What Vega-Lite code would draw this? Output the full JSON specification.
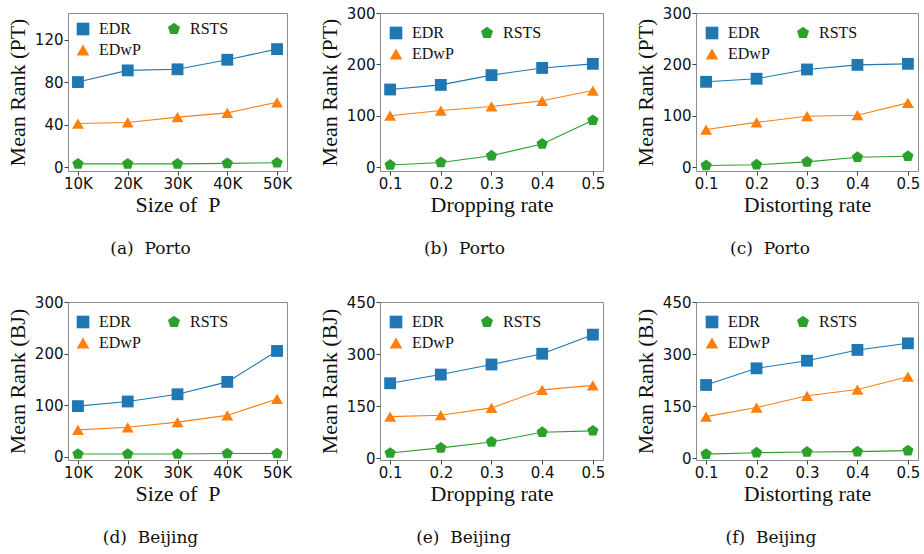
{
  "$schema": "https://vega.github.io/schema/vega-lite/v6.json",
  "background": "white",
  "padding": {"left": 5, "top": 5, "right": 5, "bottom": 5},
  "config": {
    "view": {"stroke": "#8c8c8c", "strokeWidth": 1},
    "axis": {
      "grid": false, "domain": false,
      "tickColor": "#444", "tickSize": 4, "tickWidth": 1,
      "labelFont": "DejaVu Sans", "labelFontSize": 15, "labelColor": "#111", "labelPadding": 1,
      "titleFont": "Liberation Serif", "titleFontSize": 22, "titleFontWeight": "normal", "titleColor": "#111"
    },
    "axisX": {"titlePadding": 3, "labelFlush": false},
    "axisY": {"titlePadding": 5},
    "legend": {
      "columns": 2, "columnPadding": 25, "rowPadding": 5,
      "labelFont": "Liberation Serif", "labelFontSize": 16, "labelColor": "#111", "labelOffset": 8,
      "symbolSize": 160, "symbolStrokeWidth": 0, "padding": 0
    },
    "title": {"font": "DejaVu Serif", "fontSize": 17, "fontWeight": "normal", "color": "#111", "orient": "bottom", "offset": 26}
  },
  "datasets": {
    "a": [
      {"x": 10, "m": "EDR", "v": 80}, {"x": 20, "m": "EDR", "v": 91}, {"x": 30, "m": "EDR", "v": 92}, {"x": 40, "m": "EDR", "v": 101}, {"x": 50, "m": "EDR", "v": 111},
      {"x": 10, "m": "EDwP", "v": 41}, {"x": 20, "m": "EDwP", "v": 42}, {"x": 30, "m": "EDwP", "v": 47}, {"x": 40, "m": "EDwP", "v": 51}, {"x": 50, "m": "EDwP", "v": 61},
      {"x": 10, "m": "RSTS", "v": 3}, {"x": 20, "m": "RSTS", "v": 3}, {"x": 30, "m": "RSTS", "v": 3}, {"x": 40, "m": "RSTS", "v": 3.5}, {"x": 50, "m": "RSTS", "v": 4}
    ],
    "b": [
      {"x": 0.1, "m": "EDR", "v": 151}, {"x": 0.2, "m": "EDR", "v": 160}, {"x": 0.3, "m": "EDR", "v": 179}, {"x": 0.4, "m": "EDR", "v": 193}, {"x": 0.5, "m": "EDR", "v": 201},
      {"x": 0.1, "m": "EDwP", "v": 100}, {"x": 0.2, "m": "EDwP", "v": 110}, {"x": 0.3, "m": "EDwP", "v": 118}, {"x": 0.4, "m": "EDwP", "v": 129}, {"x": 0.5, "m": "EDwP", "v": 149},
      {"x": 0.1, "m": "RSTS", "v": 4}, {"x": 0.2, "m": "RSTS", "v": 9}, {"x": 0.3, "m": "RSTS", "v": 22}, {"x": 0.4, "m": "RSTS", "v": 45}, {"x": 0.5, "m": "RSTS", "v": 91}
    ],
    "c": [
      {"x": 0.1, "m": "EDR", "v": 166}, {"x": 0.2, "m": "EDR", "v": 172}, {"x": 0.3, "m": "EDR", "v": 190}, {"x": 0.4, "m": "EDR", "v": 199}, {"x": 0.5, "m": "EDR", "v": 201},
      {"x": 0.1, "m": "EDwP", "v": 73}, {"x": 0.2, "m": "EDwP", "v": 87}, {"x": 0.3, "m": "EDwP", "v": 99}, {"x": 0.4, "m": "EDwP", "v": 101}, {"x": 0.5, "m": "EDwP", "v": 125},
      {"x": 0.1, "m": "RSTS", "v": 3}, {"x": 0.2, "m": "RSTS", "v": 4.5}, {"x": 0.3, "m": "RSTS", "v": 10}, {"x": 0.4, "m": "RSTS", "v": 19}, {"x": 0.5, "m": "RSTS", "v": 21}
    ],
    "d": [
      {"x": 10, "m": "EDR", "v": 98}, {"x": 20, "m": "EDR", "v": 107}, {"x": 30, "m": "EDR", "v": 121}, {"x": 40, "m": "EDR", "v": 145}, {"x": 50, "m": "EDR", "v": 205},
      {"x": 10, "m": "EDwP", "v": 52}, {"x": 20, "m": "EDwP", "v": 57}, {"x": 30, "m": "EDwP", "v": 67}, {"x": 40, "m": "EDwP", "v": 80}, {"x": 50, "m": "EDwP", "v": 112},
      {"x": 10, "m": "RSTS", "v": 5}, {"x": 20, "m": "RSTS", "v": 5}, {"x": 30, "m": "RSTS", "v": 5}, {"x": 40, "m": "RSTS", "v": 6}, {"x": 50, "m": "RSTS", "v": 6}
    ],
    "e": [
      {"x": 0.1, "m": "EDR", "v": 216}, {"x": 0.2, "m": "EDR", "v": 241}, {"x": 0.3, "m": "EDR", "v": 270}, {"x": 0.4, "m": "EDR", "v": 301}, {"x": 0.5, "m": "EDR", "v": 356},
      {"x": 0.1, "m": "EDwP", "v": 120}, {"x": 0.2, "m": "EDwP", "v": 124}, {"x": 0.3, "m": "EDwP", "v": 145}, {"x": 0.4, "m": "EDwP", "v": 197}, {"x": 0.5, "m": "EDwP", "v": 210},
      {"x": 0.1, "m": "RSTS", "v": 15}, {"x": 0.2, "m": "RSTS", "v": 30}, {"x": 0.3, "m": "RSTS", "v": 47}, {"x": 0.4, "m": "RSTS", "v": 75}, {"x": 0.5, "m": "RSTS", "v": 79}
    ],
    "f": [
      {"x": 0.1, "m": "EDR", "v": 211}, {"x": 0.2, "m": "EDR", "v": 259}, {"x": 0.3, "m": "EDR", "v": 281}, {"x": 0.4, "m": "EDR", "v": 312}, {"x": 0.5, "m": "EDR", "v": 331},
      {"x": 0.1, "m": "EDwP", "v": 120}, {"x": 0.2, "m": "EDwP", "v": 146}, {"x": 0.3, "m": "EDwP", "v": 180}, {"x": 0.4, "m": "EDwP", "v": 198}, {"x": 0.5, "m": "EDwP", "v": 235},
      {"x": 0.1, "m": "RSTS", "v": 12}, {"x": 0.2, "m": "RSTS", "v": 16}, {"x": 0.3, "m": "RSTS", "v": 18}, {"x": 0.4, "m": "RSTS", "v": 19}, {"x": 0.5, "m": "RSTS", "v": 22}
    ]
  },
  "columns": 3,
  "spacing": {"row": 131, "column": 93},
  "bounds": "flush",
  "align": "each",
  "resolve": {"scale": {"color": "independent", "shape": "independent", "x": "independent", "y": "independent"}, "legend": {"color": "independent", "shape": "independent"}},
  "concat": [
    {
      "width": 219, "height": 158,
      "title": {"text": "(a)\u00a0 Porto", "dx": -27},
      "data": {"name": "a"},
      "encoding": {
        "x": {"field": "x", "type": "quantitative", "scale": {"domain": [8, 52], "nice": false, "zero": false}, "axis": {"values": [10, 20, 30, 40, 50], "labelExpr": "datum.value + 'K'", "title": "Size of\u00a0 P"}},
        "y": {"field": "v", "type": "quantitative", "scale": {"domain": [-3.7, 145], "nice": false, "zero": false}, "axis": {"values": [0, 40, 80, 120], "title": "Mean Rank (PT)"}},
        "color": {"field": "m", "type": "nominal", "scale": {"domain": ["EDR", "EDwP", "RSTS"], "range": ["#1f77b4", "#ff7f0e", "#2ca02c"]}, "legend": {"orient": "none", "title": null, "legendX": 7, "legendY": 8}}
      },
      "layer": [
        {"mark": {"type": "line", "strokeWidth": 1.1}},
        {"mark": {"type": "point", "filled": true, "size": 140, "opacity": 1},
         "encoding": {
          "shape": {"field": "m", "type": "nominal", "scale": {"domain": ["EDR", "EDwP", "RSTS"], "range": ["square", "triangle-up", "M0,-1L0.951,-0.309L0.588,0.809L-0.588,0.809L-0.951,-0.309Z"]}, "legend": {"orient": "none", "title": null, "legendX": 7, "legendY": 8}}
        }}
      ]
    },
    {
      "width": 223, "height": 158,
      "title": {"text": "(b)\u00a0 Porto", "dx": -27},
      "data": {"name": "b"},
      "encoding": {
        "x": {"field": "x", "type": "quantitative", "scale": {"domain": [0.08, 0.52], "nice": false, "zero": false}, "axis": {"values": [0.1, 0.2, 0.3, 0.4, 0.5], "format": ".1f", "title": "Dropping rate"}},
        "y": {"field": "v", "type": "quantitative", "scale": {"domain": [-7.7, 300], "nice": false, "zero": false}, "axis": {"values": [0, 100, 200, 300], "title": "Mean Rank (PT)"}},
        "color": {"field": "m", "type": "nominal", "scale": {"domain": ["EDR", "EDwP", "RSTS"], "range": ["#1f77b4", "#ff7f0e", "#2ca02c"]}, "legend": {"orient": "none", "title": null, "legendX": 8, "legendY": 12}}
      },
      "layer": [
        {"mark": {"type": "line", "strokeWidth": 1.1}},
        {"mark": {"type": "point", "filled": true, "size": 140, "opacity": 1},
         "encoding": {
          "shape": {"field": "m", "type": "nominal", "scale": {"domain": ["EDR", "EDwP", "RSTS"], "range": ["square", "triangle-up", "M0,-1L0.951,-0.309L0.588,0.809L-0.588,0.809L-0.951,-0.309Z"]}, "legend": {"orient": "none", "title": null, "legendX": 8, "legendY": 12}}
        }}
      ]
    },
    {
      "width": 222, "height": 158,
      "title": {"text": "(c)\u00a0 Porto", "dx": -37},
      "data": {"name": "c"},
      "encoding": {
        "x": {"field": "x", "type": "quantitative", "scale": {"domain": [0.08, 0.52], "nice": false, "zero": false}, "axis": {"values": [0.1, 0.2, 0.3, 0.4, 0.5], "format": ".1f", "title": "Distorting rate"}},
        "y": {"field": "v", "type": "quantitative", "scale": {"domain": [-7.7, 300], "nice": false, "zero": false}, "axis": {"values": [0, 100, 200, 300], "title": "Mean Rank (PT)"}},
        "color": {"field": "m", "type": "nominal", "scale": {"domain": ["EDR", "EDwP", "RSTS"], "range": ["#1f77b4", "#ff7f0e", "#2ca02c"]}, "legend": {"orient": "none", "title": null, "legendX": 8, "legendY": 12}}
      },
      "layer": [
        {"mark": {"type": "line", "strokeWidth": 1.1}},
        {"mark": {"type": "point", "filled": true, "size": 140, "opacity": 1},
         "encoding": {
          "shape": {"field": "m", "type": "nominal", "scale": {"domain": ["EDR", "EDwP", "RSTS"], "range": ["square", "triangle-up", "M0,-1L0.951,-0.309L0.588,0.809L-0.588,0.809L-0.951,-0.309Z"]}, "legend": {"orient": "none", "title": null, "legendX": 8, "legendY": 12}}
        }}
      ]
    },
    {
      "width": 219, "height": 158,
      "title": {"text": "(d)\u00a0 Beijing", "dx": -27},
      "data": {"name": "d"},
      "encoding": {
        "x": {"field": "x", "type": "quantitative", "scale": {"domain": [8, 52], "nice": false, "zero": false}, "axis": {"values": [10, 20, 30, 40, 50], "labelExpr": "datum.value + 'K'", "title": "Size of\u00a0 P"}},
        "y": {"field": "v", "type": "quantitative", "scale": {"domain": [-6.5, 300], "nice": false, "zero": false}, "axis": {"values": [0, 100, 200, 300], "title": "Mean Rank (BJ)"}},
        "color": {"field": "m", "type": "nominal", "scale": {"domain": ["EDR", "EDwP", "RSTS"], "range": ["#1f77b4", "#ff7f0e", "#2ca02c"]}, "legend": {"orient": "none", "title": null, "legendX": 7, "legendY": 12}}
      },
      "layer": [
        {"mark": {"type": "line", "strokeWidth": 1.1}},
        {"mark": {"type": "point", "filled": true, "size": 140, "opacity": 1},
         "encoding": {
          "shape": {"field": "m", "type": "nominal", "scale": {"domain": ["EDR", "EDwP", "RSTS"], "range": ["square", "triangle-up", "M0,-1L0.951,-0.309L0.588,0.809L-0.588,0.809L-0.951,-0.309Z"]}, "legend": {"orient": "none", "title": null, "legendX": 7, "legendY": 12}}
        }}
      ]
    },
    {
      "width": 223, "height": 158,
      "title": {"text": "(e)\u00a0 Beijing", "dx": -28},
      "data": {"name": "e"},
      "encoding": {
        "x": {"field": "x", "type": "quantitative", "scale": {"domain": [0.08, 0.52], "nice": false, "zero": false}, "axis": {"values": [0.1, 0.2, 0.3, 0.4, 0.5], "format": ".1f", "title": "Dropping rate"}},
        "y": {"field": "v", "type": "quantitative", "scale": {"domain": [-5, 450], "nice": false, "zero": false}, "axis": {"values": [0, 150, 300, 450], "title": "Mean Rank (BJ)"}},
        "color": {"field": "m", "type": "nominal", "scale": {"domain": ["EDR", "EDwP", "RSTS"], "range": ["#1f77b4", "#ff7f0e", "#2ca02c"]}, "legend": {"orient": "none", "title": null, "legendX": 8, "legendY": 12}}
      },
      "layer": [
        {"mark": {"type": "line", "strokeWidth": 1.1}},
        {"mark": {"type": "point", "filled": true, "size": 140, "opacity": 1},
         "encoding": {
          "shape": {"field": "m", "type": "nominal", "scale": {"domain": ["EDR", "EDwP", "RSTS"], "range": ["square", "triangle-up", "M0,-1L0.951,-0.309L0.588,0.809L-0.588,0.809L-0.951,-0.309Z"]}, "legend": {"orient": "none", "title": null, "legendX": 8, "legendY": 12}}
        }}
      ]
    },
    {
      "width": 222, "height": 158,
      "title": {"text": "(f)\u00a0 Beijing", "dx": -36},
      "data": {"name": "f"},
      "encoding": {
        "x": {"field": "x", "type": "quantitative", "scale": {"domain": [0.08, 0.52], "nice": false, "zero": false}, "axis": {"values": [0.1, 0.2, 0.3, 0.4, 0.5], "format": ".1f", "title": "Distorting rate"}},
        "y": {"field": "v", "type": "quantitative", "scale": {"domain": [-5, 450], "nice": false, "zero": false}, "axis": {"values": [0, 150, 300, 450], "title": "Mean Rank (BJ)"}},
        "color": {"field": "m", "type": "nominal", "scale": {"domain": ["EDR", "EDwP", "RSTS"], "range": ["#1f77b4", "#ff7f0e", "#2ca02c"]}, "legend": {"orient": "none", "title": null, "legendX": 8, "legendY": 12}}
      },
      "layer": [
        {"mark": {"type": "line", "strokeWidth": 1.1}},
        {"mark": {"type": "point", "filled": true, "size": 140, "opacity": 1},
         "encoding": {
          "shape": {"field": "m", "type": "nominal", "scale": {"domain": ["EDR", "EDwP", "RSTS"], "range": ["square", "triangle-up", "M0,-1L0.951,-0.309L0.588,0.809L-0.588,0.809L-0.951,-0.309Z"]}, "legend": {"orient": "none", "title": null, "legendX": 8, "legendY": 12}}
        }}
      ]
    }
  ]
}
